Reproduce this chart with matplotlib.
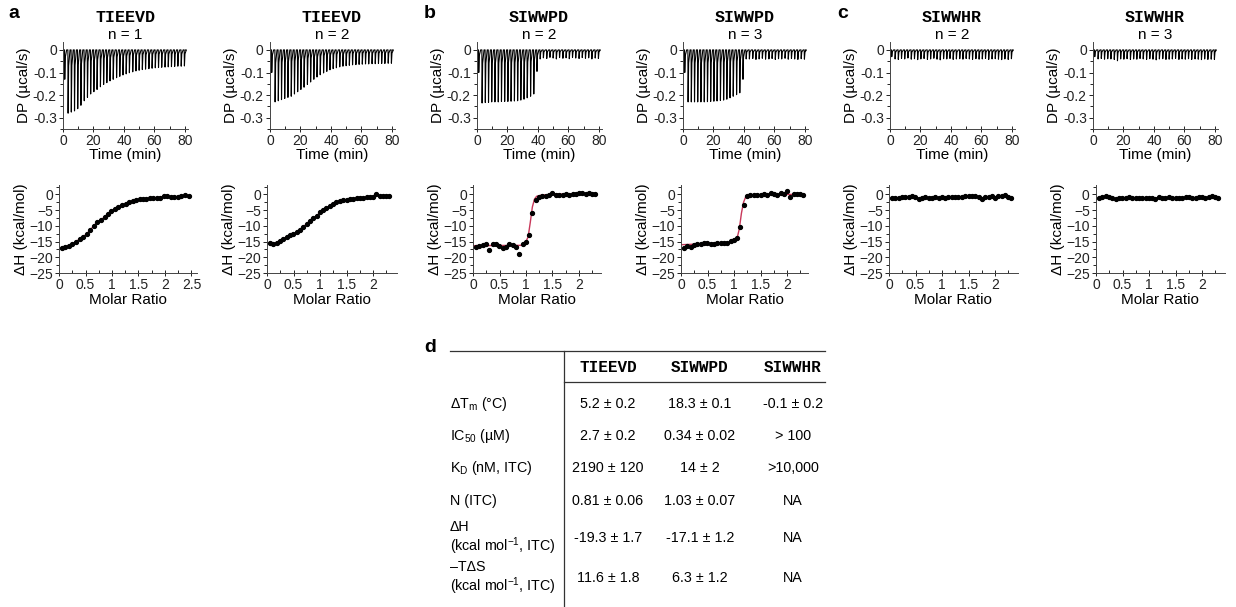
import matplotlib
matplotlib.use('Agg')
from matplotlib import pyplot as plt
from matplotlib.lines import Line2D
from matplotlib.ticker import MultipleLocator

plt.rcParams['font.family'] = ['Liberation Sans', 'DejaVu Sans']
plt.rcParams['mathtext.fontset'] = 'custom'
plt.rcParams['mathtext.rm'] = 'Liberation Sans'
plt.rcParams['mathtext.it'] = 'Liberation Sans:italic'

# ---- data ----
peptides = ['TIEEVD', 'TIEEVD', 'SIWWPD', 'SIWWPD', 'SIWWHR', 'SIWWHR']
n_labels = ['n = 1', 'n = 2', 'n = 2', 'n = 3', 'n = 2', 'n = 3']
panel_letters = ['a', 'b', 'c']

# injection times (min), shared by all runs
inj_time = [1.0, 3.2, 5.3, 7.4, 9.5, 11.6, 13.8, 15.9, 18.0, 20.1, 22.2, 24.4, 26.5,
            28.6, 30.7, 32.8, 35.0, 37.1, 39.2, 41.3, 43.4, 45.6, 47.7, 49.8, 51.9,
            54.0, 56.2, 58.3, 60.4, 62.5, 64.6, 66.8, 68.9, 71.0, 73.1, 75.2, 77.4, 79.5]

# peak heights of the thermograms (ucal/s)
dp_a1 = [-0.13, -0.28, -0.275, -0.27, -0.26, -0.245, -0.225, -0.21, -0.195, -0.185,
         -0.175, -0.163, -0.153, -0.145, -0.137, -0.13, -0.123, -0.117, -0.111, -0.106,
         -0.101, -0.097, -0.093, -0.09, -0.087, -0.085, -0.083, -0.081, -0.079, -0.078,
         -0.077, -0.076, -0.075, -0.074, -0.073, -0.072, -0.072, -0.071]
dp_a2 = [-0.10, -0.23, -0.225, -0.22, -0.215, -0.21, -0.205, -0.195, -0.185, -0.175,
         -0.165, -0.153, -0.142, -0.13, -0.12, -0.11, -0.102, -0.095, -0.088, -0.083,
         -0.079, -0.075, -0.072, -0.07, -0.068, -0.066, -0.065, -0.064, -0.063, -0.062,
         -0.062, -0.061, -0.061, -0.06, -0.06, -0.06, -0.059, -0.059]
dp_b1 = [-0.10, -0.235, -0.233, -0.232, -0.23, -0.23, -0.23, -0.228, -0.228, -0.228,
         -0.227, -0.226, -0.225, -0.222, -0.218, -0.212, -0.205, -0.195, -0.095, -0.04,
         -0.035, -0.038, -0.033, -0.036, -0.04, -0.034, -0.037, -0.035, -0.039, -0.033,
         -0.036, -0.038, -0.034, -0.037, -0.035, -0.04, -0.036, -0.038]
dp_b2 = [-0.10, -0.23, -0.23, -0.23, -0.23, -0.23, -0.23, -0.229, -0.228, -0.227,
         -0.226, -0.224, -0.222, -0.218, -0.212, -0.205, -0.198, -0.19, -0.13, -0.04,
         -0.04, -0.038, -0.042, -0.04, -0.037, -0.041, -0.04, -0.038, -0.042, -0.039,
         -0.04, -0.037, -0.041, -0.038, -0.04, -0.042, -0.039, -0.041]
dp_c1 = [-0.03, -0.04, -0.042, -0.038, -0.04, -0.036, -0.041, -0.039, -0.043, -0.04,
         -0.038, -0.042, -0.04, -0.037, -0.041, -0.044, -0.039, -0.04, -0.038, -0.042,
         -0.04, -0.039, -0.041, -0.038, -0.04, -0.042, -0.039, -0.041, -0.04, -0.038,
         -0.042, -0.04, -0.039, -0.041, -0.043, -0.04, -0.042, -0.039]
dp_c2 = [-0.03, -0.04, -0.038, -0.041, -0.039, -0.04, -0.042, -0.048, -0.04, -0.041,
         -0.039, -0.042, -0.04, -0.041, -0.038, -0.04, -0.042, -0.039, -0.041, -0.044,
         -0.04, -0.039, -0.042, -0.041, -0.04, -0.038, -0.042, -0.04, -0.041, -0.039,
         -0.042, -0.04, -0.041, -0.043, -0.04, -0.042, -0.041, -0.042]

# integrated heats vs molar ratio (kcal/mol)
ratio_a1 = [0.05, 0.12, 0.19, 0.25, 0.32, 0.39, 0.46, 0.52, 0.59, 0.66, 0.72, 0.79, 0.86,
            0.92, 0.99, 1.06, 1.12, 1.19, 1.26, 1.32, 1.39, 1.45, 1.52, 1.58, 1.65, 1.72,
            1.78, 1.85, 1.91, 1.98, 2.04, 2.11, 2.17, 2.24, 2.30, 2.37, 2.45]
ratio_std = [0.05, 0.11, 0.18, 0.24, 0.30, 0.37, 0.43, 0.49, 0.56, 0.62, 0.68, 0.75, 0.81,
             0.87, 0.94, 1.00, 1.06, 1.12, 1.19, 1.25, 1.31, 1.37, 1.44, 1.50, 1.56, 1.62,
             1.69, 1.75, 1.81, 1.88, 1.94, 2.00, 2.06, 2.13, 2.19, 2.25, 2.31]
dh_a1 = [-17.0, -16.7, -16.3, -15.8, -15.0, -14.2, -13.4, -12.6, -11.3, -9.9, -8.8, -8.1,
         -7.2, -6.2, -5.3, -4.6, -4.0, -3.4, -2.9, -2.5, -2.1, -1.8, -1.6, -1.4, -1.3, -1.2,
         -1.1, -1.0, -1.0, -0.4, -0.5, -0.9, -0.8, -0.7, -0.5, -0.3, -0.5]
dh_a2 = [-15.5, -15.8, -15.3, -14.7, -14.1, -13.6, -13.0, -12.7, -12.0, -11.2, -10.3, -9.4,
         -8.3, -7.4, -6.9, -5.6, -4.9, -4.4, -3.6, -2.9, -2.4, -2.0, -1.8, -1.7, -1.5, -1.3,
         -1.2, -1.1, -1.0, -0.9, -0.8, -0.7, 0.2, -0.6, -0.5, -0.5, -0.5]
dh_b1 = [-16.8, -16.5, -16.2, -15.9, -17.6, -15.8, -15.9, -16.3, -17.0, -16.6, -15.8, -16.0,
         -16.7, -19.0, -15.9, -15.2, -12.8, -6.0, -1.8, -0.8, -0.5, -0.4, -0.3, 0.5, -0.2,
         -0.1, -0.3, 0.0, -0.2, 0.1, 0.2, 0.4, 0.3, 0.2, 0.3, 0.1, 0.1]
dh_b2 = [-16.9, -16.5, -16.6, -16.1, -15.9, -15.7, -15.6, -15.4, -15.8, -15.7, -15.6, -15.6,
         -15.5, -15.3, -14.9, -14.6, -13.8, -10.5, -3.5, -0.6, -0.3, -0.2, -0.2, -0.1, 0.0,
         -0.2, 0.3, 0.1, -0.2, 0.3, 0.1, 1.0, -0.8, 0.2, 0.1, 0.0, -0.3]
dh_c1 = [-1.1, -1.2, -1.0, -0.9, -0.8, -0.9, -0.5, -0.8, -1.4, -1.0, -0.9, -1.2, -1.0,
         -0.8, -1.1, -0.9, -1.0, -0.8, -0.9, -0.7, -0.8, -0.9, -0.5, -0.6, -0.4, -0.6,
         -0.9, -1.3, -0.9, -0.9, -0.6, -1.0, -0.4, -0.5, -0.2, -0.7, -1.2]
dh_c2 = [-1.0, -0.9, -0.5, -0.8, -1.1, -1.4, -1.1, -1.0, -1.0, -0.9, -1.0, -1.1, -1.1,
         -1.0, -1.0, -1.2, -1.0, -1.3, -0.9, -1.1, -1.0, -0.8, -1.0, -1.2, -1.2, -1.0,
         -0.9, -0.8, -1.1, -1.2, -0.7, -0.8, -1.1, -0.8, -0.6, -0.7, -1.0]

# fitted binding curves for SIWWPD
fit_x_b1 = [0.0, 0.9, 0.98, 1.04, 1.08, 1.12, 1.16, 1.2, 1.3, 1.6, 2.33]
fit_y_b1 = [-16.3, -16.2, -15.7, -13.5, -9.0, -4.0, -1.5, -0.6, -0.2, 0.1, 0.2]
fit_x_b2 = [0.0, 0.9, 1.0, 1.06, 1.1, 1.14, 1.18, 1.22, 1.3, 1.6, 2.33]
fit_y_b2 = [-16.0, -15.4, -14.8, -13.8, -11.0, -6.0, -2.5, -0.8, -0.2, 0.0, 0.0]

# table (panel d)
table_cols = ['TIEEVD', 'SIWWPD', 'SIWWHR']
table_rows = ['ΔT$_\\mathrm{m}$ (°C)', 'IC$_\\mathrm{50}$ (µM)', 'K$_\\mathrm{D}$ (nM, ITC)',
              'N (ITC)', 'ΔH\n(kcal mol$^\\mathrm{-1}$, ITC)', '–TΔS\n(kcal mol$^\\mathrm{-1}$, ITC)']
table_vals = [['5.2 ± 0.2', '18.3 ± 0.1', '-0.1 ± 0.2'],
              ['2.7 ± 0.2', '0.34 ± 0.02', '> 100'],
              ['2190 ± 120', '14 ± 2', '>10,000'],
              ['0.81 ± 0.06', '1.03 ± 0.07', 'NA'],
              ['-19.3 ± 1.7', '-17.1 ± 1.2', 'NA'],
              ['11.6 ± 1.8', '6.3 ± 1.2', 'NA']]

dp_runs = [dp_a1, dp_a2, dp_b1, dp_b2, dp_c1, dp_c2]
dh_runs = [(ratio_a1, dh_a1), (ratio_std, dh_a2), (ratio_std, dh_b1),
           (ratio_std, dh_b2), (ratio_std, dh_c1), (ratio_std, dh_c2)]
fits = {2: (fit_x_b1, fit_y_b1), 3: (fit_x_b2, fit_y_b2)}

W, H = 1236, 607
fig = plt.figure(figsize=(W / 100, H / 100), dpi=100)


def px_axes(left, top, width, height):
    return fig.add_axes([left / W, 1 - (top + height) / H, width / W, height / H])


def style(ax):
    for s in ['top', 'right']:
        ax.spines[s].set_visible(False)
    for s in ['left', 'bottom']:
        ax.spines[s].set_linewidth(0.7)
        ax.spines[s].set_color('#444444')
    ax.tick_params(axis='y', which='major', direction='out', length=3, width=0.7,
                   labelsize=10, pad=1.5, colors='#222222')
    ax.tick_params(axis='y', which='minor', direction='out', length=2, width=0.6)
    ax.tick_params(axis='x', which='major', direction='inout', length=4, width=0.7,
                   labelsize=10, pad=1.5, colors='#222222')
    ax.tick_params(axis='x', which='minor', direction='in', length=2, width=0.6)


top_left = [63, 270, 477, 683, 890, 1093]
bot_left = [59, 267, 473, 681, 889, 1096]
bot_xmax = [2.6, 2.45, 2.42, 2.4, 2.43, 2.43]

for i in range(6):
    # thermogram
    ax = px_axes(top_left[i], 42, 125, 87)
    xs, ys = [0.0], [0.0]
    for t, p in zip(inj_time, dp_runs[i]):
        xs += [t, t + 0.15, t + 0.5, t + 1.4]
        ys += [0.0, p, p * 0.25, 0.0]
    xs.append(80.5)
    ys.append(0.0)
    ax.plot(xs, ys, color='black', lw=0.8)
    ax.set_xlim(0, 82)
    ax.set_ylim(-0.35, 0.035)
    ax.set_xticks([0, 20, 40, 60, 80])
    ax.xaxis.set_minor_locator(MultipleLocator(10))
    ax.set_yticks([0, -0.1, -0.2, -0.3])
    ax.set_yticklabels(['0', '-0.1', '-0.2', '-0.3'])
    ax.yaxis.set_minor_locator(MultipleLocator(0.05))
    style(ax)
    ax.set_xlabel('Time (min)', fontsize=11, labelpad=0)
    ax.set_ylabel('DP (µcal/s)', fontsize=11, labelpad=1)
    fig.text((top_left[i] + 62) / W, 1 - 18 / H, peptides[i], ha='center', va='center',
             fontsize=12, fontweight='bold', family='Liberation Mono')
    fig.text((top_left[i] + 62) / W, 1 - 35 / H, n_labels[i], ha='center',
             va='center', fontsize=11)

    # binding isotherm
    bx = px_axes(bot_left[i], 185, bot_xmax[i] * 53, 88)
    rx, ry = dh_runs[i]
    if i in fits:
        bx.plot(fits[i][0], fits[i][1], color='#c8385a', lw=1.0, zorder=2)
        bx.plot(rx, ry, 'o', color='black', ms=2.8, zorder=3)
    elif i < 2:
        bx.plot(rx, ry, '-', color='#c8385a', lw=1.0, zorder=2)
        bx.plot(rx, ry, 'o', color='black', ms=2.8, zorder=3)
    else:
        bx.plot(rx, ry, '-o', color='black', lw=0.7, ms=2.8)
    bx.set_xlim(0, bot_xmax[i])
    bx.set_ylim(-25, 3)
    bx.set_xticks([0, 0.5, 1, 1.5, 2, 2.5] if i == 0 else [0, 0.5, 1, 1.5, 2])
    bx.set_xticklabels(['0', '0.5', '1', '1.5', '2', '2.5'][:len(bx.get_xticks())])
    bx.xaxis.set_minor_locator(MultipleLocator(0.25))
    bx.set_yticks([0, -5, -10, -15, -20, -25])
    bx.yaxis.set_minor_locator(MultipleLocator(2.5))
    style(bx)
    bx.set_xlabel('Molar Ratio', fontsize=11, labelpad=1)
    bx.set_ylabel('ΔH (kcal/mol)', fontsize=11, labelpad=1)

for letter, x in zip(panel_letters, [14, 430, 843]):
    fig.text(x / W, 1 - 14 / H, letter, ha='center', va='center', fontsize=14,
             fontweight='bold')

# ---- panel d: summary table ----
fig.text(430 / W, 1 - 348 / H, 'd', ha='center', va='center', fontsize=14,
         fontweight='bold')
for (x0, y0), (x1, y1) in [((450, 351), (825, 351)), ((564, 382), (825, 382)),
                           ((564, 351), (564, 607))]:
    fig.add_artist(Line2D([x0 / W, x1 / W], [1 - y0 / H, 1 - y1 / H],
                          transform=fig.transFigure, color='#333333', lw=0.9))

col_x = [608, 700, 793]
row_y = [404, 436, 468, 501, 538, 578]
for cx, name in zip(col_x, table_cols):
    fig.text(cx / W, 1 - 368 / H, name, ha='center', va='center', fontsize=11.5,
             fontweight='bold', family='Liberation Mono')
for ry, label, vals in zip(row_y, table_rows, table_vals):
    parts = label.split('\n')
    if len(parts) == 1:
        fig.text(450 / W, 1 - ry / H, label, ha='left', va='center', fontsize=10.3)
    else:
        fig.text(450 / W, 1 - (ry - 11) / H, parts[0], ha='left', va='center',
                 fontsize=10.3)
        fig.text(450 / W, 1 - (ry + 8) / H, parts[1], ha='left', va='center',
                 fontsize=10.3)
    for cx, v in zip(col_x, vals):
        fig.text(cx / W, 1 - ry / H, v, ha='center', va='center', fontsize=10.3)

plt.savefig('out.png', dpi=100)
